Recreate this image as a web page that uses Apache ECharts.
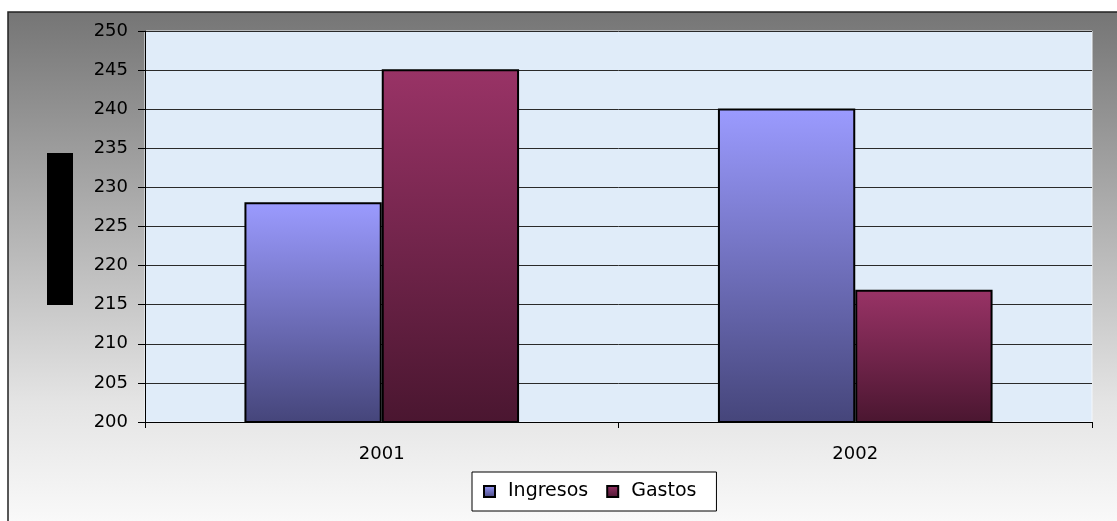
<!DOCTYPE html>
<html><head><meta charset="utf-8">
<script src="https://cdn.jsdelivr.net/npm/echarts@6/dist/echarts.min.js"></script>
<style>html,body{margin:0;padding:0;background:#fff}#c{width:1117px;height:521px}</style>
</head><body><div id="c"></div>
<script>
const categories = ['2001', '2002'];
const ingresos = [228.1, 240.1];
const gastos = [245.1, 216.9];
const yTicks = {min: 200, max: 250, interval: 5};

const chart = echarts.init(document.getElementById('c'));
function grad(top, bottom) {
  return new echarts.graphic.LinearGradient(0, 0, 0, 1, [{offset: 0, color: top}, {offset: 1, color: bottom}]);
}
const FONT = 'DejaVu Sans';
chart.setOption({
  animation: false,
  graphic: [
    {type: 'rect', z: -10, shape: {x: 8, y: 12, width: 1120, height: 520},
     style: {fill: new echarts.graphic.LinearGradient(0, 0, 0, 1, [{offset: 0, color: '#757575'}, {offset: 0.75, color: '#e4e4e4'}, {offset: 1, color: '#fbfbfb'}]), stroke: '#222', lineWidth: 1.5}},
    {type: 'rect', z: 5, shape: {x: 47, y: 153, width: 26, height: 152}, style: {fill: '#000'}}
  ],
  grid: {left: 145, top: 31, right: 25, bottom: 99, show: true, backgroundColor: '#e0ecf9', borderColor: '#f4f8fc', borderWidth: 1},
  legend: {
    data: ['Ingresos', 'Gastos'], left: 472, top: 472,
    backgroundColor: '#fff', borderColor: '#000', borderWidth: 1, padding: [10, 20, 10, 11],
    itemWidth: 11, itemHeight: 11, itemGap: 18, icon: 'rect',
    itemStyle: {borderColor: '#000', borderWidth: 2},
    textStyle: {fontSize: 19, color: '#000', fontFamily: FONT, padding: [0, 0, 0, 8]}
  },
  xAxis: {
    type: 'category', data: categories,
    axisLine: {lineStyle: {color: '#000', width: 1}},
    axisTick: {show: true, length: 6, lineStyle: {color: '#000'}},
    axisLabel: {fontSize: 18, color: '#000', margin: 23, fontFamily: FONT}
  },
  yAxis: {
    type: 'value', min: yTicks.min, max: yTicks.max, interval: yTicks.interval,
    axisLine: {show: true, lineStyle: {color: '#000', width: 1}},
    axisTick: {show: true, length: 7, lineStyle: {color: '#000'}},
    axisLabel: {fontSize: 18, color: '#000', margin: 17, fontFamily: FONT},
    splitLine: {lineStyle: {color: '#2a2a2a', width: 1}}
  },
  series: [
    {name: 'Ingresos', type: 'bar', data: ingresos, barGap: '0%', barCategoryGap: '42%',
     itemStyle: {color: grad('#9b9bff', '#45457a'), borderColor: '#000', borderWidth: 2}},
    {name: 'Gastos', type: 'bar', data: gastos,
     itemStyle: {color: grad('#993366', '#4a1630'), borderColor: '#000', borderWidth: 2}}
  ]
});
</script></body></html>
